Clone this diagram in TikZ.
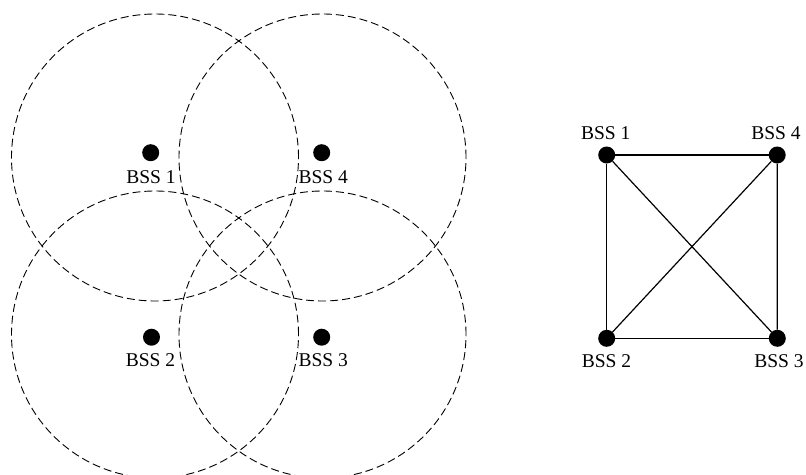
\documentclass[tikz,border=0pt]{standalone}
\usepackage{fontspec}
\setmainfont{Liberation Serif}
\begin{document}
\begin{tikzpicture}[x=1pt,y=-1pt,
  coverage/.style={draw=black, line width=0.9pt, dash pattern=on 8pt off 4pt},
  dot/.style={circle, fill=black, minimum size=17pt, inner sep=0pt},
  lbl/.style={anchor=base, inner sep=0pt, font=\fontsize{19.5}{22}\selectfont},
  link/.style={draw=black, line width=1.2pt}]
\clip (0,0) rectangle (806,474);
\fill[white] (0,0) rectangle (806,474);
% coverage areas
\coordinate (c1) at (155,157.5);
\coordinate (c4) at (322.5,157.5);
\coordinate (c2) at (155,334.5);
\coordinate (c3) at (322.5,334.5);
\foreach \c in {c1,c2,c3,c4} \draw[coverage] (\c) circle[radius=143.5pt];
% left stations
\node[dot] (a1) at (150.7,152.7) {};
\node[dot] (a4) at (321.7,152.7) {};
\node[dot] (a2) at (151.5,337.2) {};
\node[dot] (a3) at (321.7,337.2) {};
\node[lbl] (ta1) at (151,183.3) {BSS 1};
\node[lbl] (ta4) at (323.3,183.3) {BSS 4};
\node[lbl] (ta2) at (150.5,366.7) {BSS 2};
\node[lbl] (ta3) at (323.3,366.7) {BSS 3};
% right graph
\node[dot] (b1) at (606.7,155) {};
\node[dot] (b4) at (777.2,155) {};
\node[dot] (b2) at (606.7,338.3) {};
\node[dot] (b3) at (777.3,338.3) {};
\node[lbl] (tb1) at (605.8,139.3) {BSS 1};
\node[lbl] (tb4) at (776,139.3) {BSS 4};
\node[lbl] (tb2) at (606.5,367.3) {BSS 2};
\node[lbl] (tb3) at (779,367.3) {BSS 3};
\draw[link] (b1) -- (b4);
\draw[link] (b1) -- (b2);
\draw[link] (b4) -- (b3);
\draw[link] (b2) -- (b3);
\draw[link] (b1) -- (b3);
\draw[link] (b4) -- (b2);
\end{tikzpicture}
\end{document}
